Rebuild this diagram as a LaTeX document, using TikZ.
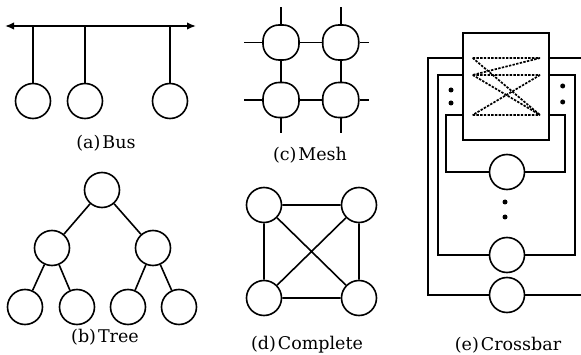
\documentclass[tikz,border=0pt]{standalone}
\usepackage{fontspec}
\setmainfont{DejaVu Serif}
\usetikzlibrary{arrows.meta}
\begin{document}
\begin{tikzpicture}[x=1pt,y=-1pt,
  wire/.style={line width=1.6pt},
  pe/.style={circle,draw,line width=1.6pt,minimum size=35pt,inner sep=0pt},
  meshpe/.style={rectangle,rounded corners=16pt,draw,line width=1.6pt,minimum width=36pt,minimum height=35pt,inner sep=0pt},
  switchbox/.style={rectangle,draw,line width=1.6pt,minimum width=86pt,minimum height=107pt,inner sep=0pt},
  xpath/.style={line width=1.7pt,dash pattern=on 2.4pt off 1.3pt},
  blob/.style={circle,fill,inner sep=0pt,minimum size=5pt},
  caption/.style={font=\fontsize{17.5}{20}\selectfont,inner sep=0pt}]
\useasboundingbox (0,0) rectangle (581,355);

% ---------- (a) Bus ----------
\coordinate (busL) at (5,26);
\coordinate (busR) at (196,26);
\draw[wire,{Latex[length=9pt,width=7.5pt]}-{Latex[length=9pt,width=7.5pt]}] (busL) -- (busR);
\node[pe] (a1) at (33,101) {};
\node[pe] (a2) at (85,101) {};
\node[pe] (a3) at (170,101) {};
\foreach \n in {a1,a2,a3} \draw[wire] (\n.north) -- (\n |- busL);
\node[caption] (capa) at (106,143) {(a)\hspace{2pt}Bus};

% ---------- (b) Tree ----------
\node[pe] (t0) at (102,190) {};
\node[pe] (t1) at (52,248) {};
\node[pe] (t2) at (153,248) {};
\node[pe] (t3) at (25,307) {};
\node[pe] (t4) at (77,307) {};
\node[pe] (t5) at (128,307) {};
\node[pe] (t6) at (179,307) {};
\draw[wire] (t0) -- (t1) (t0) -- (t2)
            (t1) -- (t3) (t1) -- (t4)
            (t2) -- (t5) (t2) -- (t6);
\node[caption] (capb) at (105,337) {(b)\hspace{2pt}Tree};

% ---------- (c) Mesh ----------
\node[meshpe] (m11) at (281,42.5) {};
\node[meshpe] (m12) at (340.7,42.5) {};
\node[meshpe] (m21) at (281,100) {};
\node[meshpe] (m22) at (340.7,100) {};
\draw[wire] (m11) -- (m12) (m21) -- (m22) (m11) -- (m21) (m12) -- (m22);
\foreach \n in {m11,m12} \draw[wire] (\n.north) -- ++(0,-17);
\foreach \n in {m21,m22} \draw[wire] (\n.south) -- ++(0,15);
\foreach \n in {m11,m21} \draw[wire] (\n.west) -- ++(-18,0);
\foreach \n in {m12,m22} \draw[wire] (\n.east) -- ++(9,0);
\node[caption] (capc) at (310,155) {(c)\hspace{2pt}Mesh};

% ---------- (d) Complete ----------
\node[pe] (k1) at (264,205) {};
\node[pe] (k2) at (359,205) {};
\node[pe] (k3) at (264,298) {};
\node[pe] (k4) at (359,298) {};
\draw[wire] (k1) -- (k2) (k3) -- (k4) (k1) -- (k3) (k2) -- (k4)
            (k1) -- (k4) (k2) -- (k3);
\node[caption] (capd) at (307,345) {(d)\hspace{2pt}Complete};

% ---------- (e) Crossbar ----------
\node[switchbox] (sw) at (506,86.5) {};
% switch ports inside the box
\coordinate (inL1) at (472.7,58);
\coordinate (inL2) at (472.7,75);
\coordinate (inL3) at (472.7,115);
\coordinate (inR1) at (540,58);
\coordinate (inR2) at (540,75);
\coordinate (inR3) at (540,115);
\draw[xpath] (inL1) -- (inR1) (inL2) -- (inR2) (inL3) -- (inR3)
             (inL1) -- (inR3) (inR1) -- (inL2)
             (inL2) -- (inR3) (inR2) -- (inL3);
% processing elements
\node[pe] (x1) at (507,172) {};
\node[pe] (x2) at (507,255) {};
\node[pe] (x3) at (507,295) {};
% loops from the switch to each element
\draw[wire] (sw.west |- inL1) -- (428,58) -- (428,295) -- (x3.west);
\draw[wire] (sw.east |- inR1) -- (581,58);
\draw[wire] (x3.east) -- (581,295);
\draw[wire] (sw.west |- inL2) -- (438,75) -- (438,255) -- (x2.west);
\draw[wire] (x2.east) -- (575,255) -- (575,75) -- (sw.east |- inR2);
\draw[wire] (sw.west |- inL3) -- (446,115) -- (446,172) -- (x1.west);
\draw[wire] (x1.east) -- (565,172) -- (565,115) -- (sw.east |- inR3);
% ellipsis dots
\node[blob] (dl1) at (451,90) {};
\node[blob] (dl2) at (451,103) {};
\node[blob] (dr1) at (562.7,86) {};
\node[blob] (dr2) at (562.7,102) {};
\node[blob] (dm1) at (505,202) {};
\node[blob] (dm2) at (505,217) {};
\node[caption] (cape) at (508,345) {(e)\hspace{2pt}Crossbar};
\end{tikzpicture}
\end{document}
